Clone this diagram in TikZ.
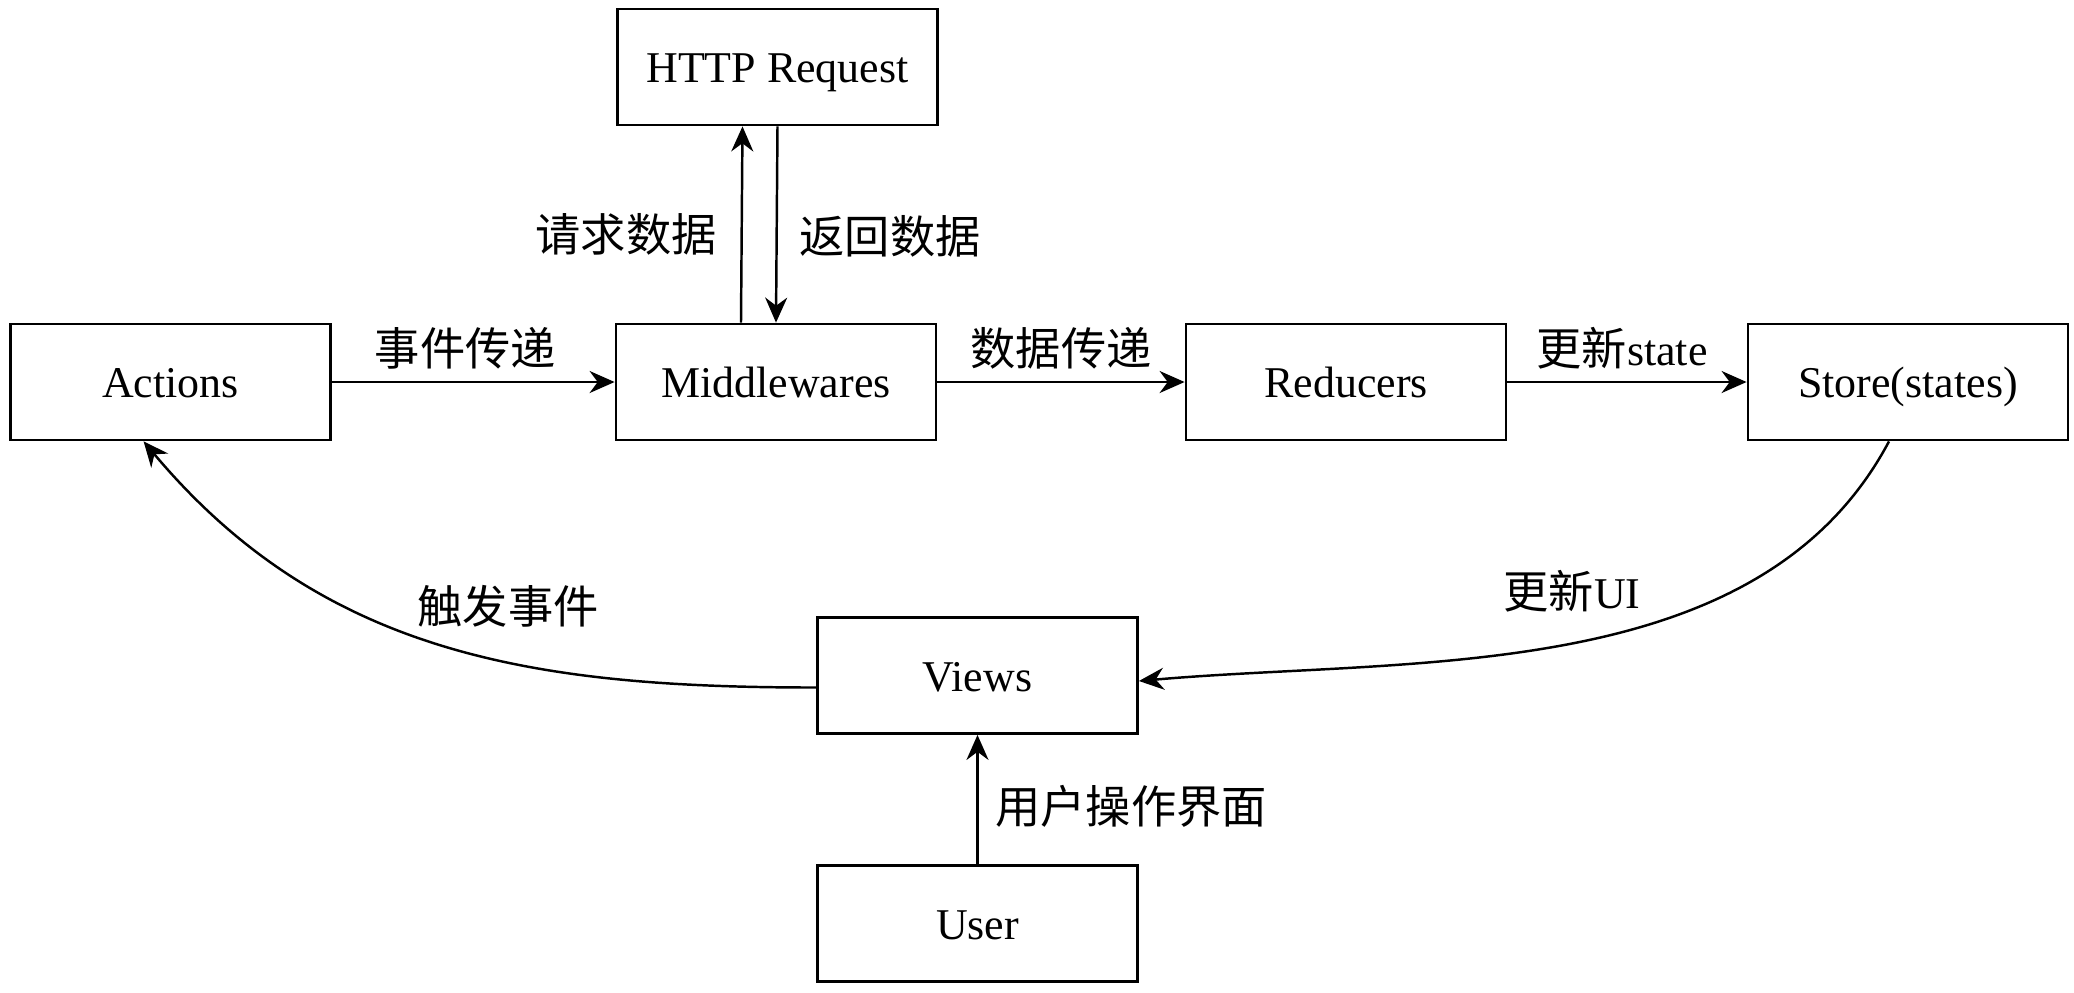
\documentclass[tikz,border=0pt]{standalone}
\usepackage{fontspec}
\setmainfont{Liberation Serif}
\newfontfamily\cjk[Scale=1.03]{Noto Sans CJK SC}
\usetikzlibrary{arrows.meta}

\tikzset{
	laatikko/.style={draw, line width=0.8pt, minimum width=3.2cm, minimum height=1.16cm, text height=0.9em, text depth=0pt, font=\fontsize{12.5}{15}\selectfont},
	nuoli/.style={-{Stealth[length=2.5mm,width=2.2mm]}, line width=0.7pt},
	teksti/.style={font=\fontsize{12.5}{15}\selectfont}
}

\begin{document}
\begin{tikzpicture}
\useasboundingbox (0,0) rectangle (20.74,-9.92);

\pgfmathsetmacro{\rivi}{-3.82}
\pgfmathsetmacro{\keski}{9.775}

\node[laatikko] (actions) at (1.706,\rivi) {Actions};
\node[laatikko] (mid) at (7.76,\rivi) {Middlewares};
\node[laatikko] (red) at (13.46,\rivi) {Reducers};
\node[laatikko] (store) at (19.08,\rivi) {Store(states)};
\node[laatikko] (http) at (7.775,-0.67) {HTTP Request};
\node[laatikko] (views) at (\keski,-6.755) {Views};
\node[laatikko] (user) at (\keski,-9.235) {User};

\draw[nuoli] (actions) -- node[teksti, above, xshift=-0.08cm] {\cjk 事件传递} (mid);
\draw[nuoli] (mid) -- node[teksti, above] {\cjk 数据传递} (red);
\draw[nuoli] (red) -- node[teksti, above, xshift=-0.05cm] {{\cjk 更新}state} (store);

\draw[nuoli] ([xshift=-0.35cm]mid.north) -- node[teksti, pos=0.45, left=0.12cm] {\cjk 请求数据} ([xshift=-0.35cm]http.south);
\draw[nuoli] (http.south) -- node[teksti, pos=0.56, right=0.1cm] {\cjk 返回数据} (mid.north);

\draw[nuoli] (user) -- node[teksti, pos=0.45, right=0.05cm] {\cjk 用户操作界面} (views);

\draw[nuoli] ([yshift=-0.12cm]views.west) to[out=180, in=-50] ([xshift=-0.27cm]actions.south);
\draw[nuoli] ([xshift=-0.19cm]store.south) to[out=-118, in=5, looseness=0.9] ([yshift=-0.055cm]views.east);

\node[teksti] (laukaisu) at (5.08,-6.06) {\cjk 触发事件};
\node[teksti] (paivitys) at (15.72,-5.91) {{\cjk 更新}UI};
\end{tikzpicture}
\end{document}
